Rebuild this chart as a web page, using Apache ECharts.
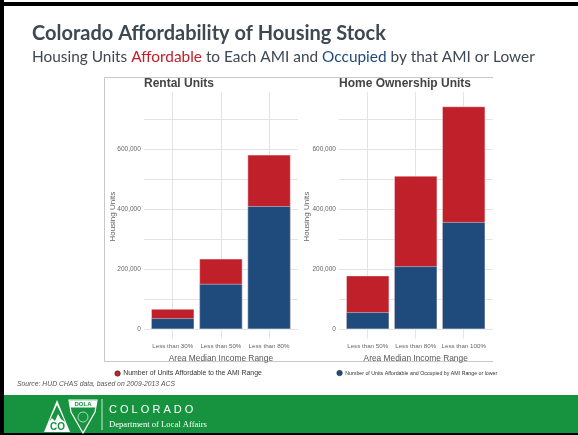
<!DOCTYPE html>
<html><head><meta charset="utf-8">
<script src="https://cdn.jsdelivr.net/npm/echarts@6/dist/echarts.min.js"></script>
<style>html,body{margin:0;padding:0;background:#fff}#c{width:578px;height:435px}</style>
</head><body><div id="c"></div>
<script>
// ---- data ----
const rentalCategories = ['Less than 30%', 'Less than 50%', 'Less than 80%'];
const rentalAffordable = [68000, 235000, 581000];
const rentalOccupied = [37000, 151000, 410000];
const ownerCategories = ['Less than 50%', 'Less than 80%', 'Less than 100%'];
const ownerAffordable = [179000, 511000, 742000];
const ownerOccupied = [57000, 210000, 357000];
const yLabelStep = 200000;
const seriesNames = ['Number of Units Affordable to the AMI Range',
                     'Number of Units Affordable and Occupied by AMI Range or lower'];

const RED = '#c0202a', BLUE = '#1f4a7c', GRID = '#e3e3e3';
const SANS = 'Liberation Sans, Arial, sans-serif';

function yAxisOpt(idx) {
  return {
    type: 'value', gridIndex: idx, min: -30000, max: 790000,
    minInterval: 100000, maxInterval: 100000,
    axisLine: {show: false}, axisTick: {show: false},
    splitLine: {show: true, showMinLine: false, showMaxLine: false, lineStyle: {color: GRID, width: 1}},
    axisLabel: {
      fontSize: 6.5, color: '#666', fontFamily: SANS, margin: 3,
      showMinLabel: false, showMaxLabel: false,
      formatter: v => (v >= 0 && v % yLabelStep === 0) ? v.toLocaleString('en-US') : ''
    }
  };
}
function xAxisOpt(idx, cats) {
  return {
    type: 'value', gridIndex: idx, min: 0.4, max: 3.6,
    minInterval: 1, maxInterval: 1,
    axisLine: {show: false}, axisTick: {show: false},
    splitLine: {show: true, showMinLine: false, showMaxLine: false, lineStyle: {color: GRID, width: 1}},
    axisLabel: {
      fontSize: 6.2, color: '#666', fontFamily: SANS, margin: 5,
      showMinLabel: false, showMaxLabel: false,
      formatter: v => (Math.abs(v - Math.round(v)) < 1e-6 && v >= 1 && v <= 3) ? cats[Math.round(v) - 1] : ''
    },
    name: 'Area Median Income Range', nameLocation: 'middle', nameGap: 12.5,
    nameTextStyle: {fontSize: 8.4, color: '#555', fontFamily: SANS}
  };
}
function bars(idx, name, vals, color) {
  return {
    type: 'bar', name: name, xAxisIndex: idx, yAxisIndex: idx,
    data: vals.map((v, i) => [i + 1, v]),
    barWidth: 43.3, barGap: '-100%',
    itemStyle: {color: color, borderColor: 'rgba(255,255,255,0.55)', borderWidth: 0.8},
    emphasis: {disabled: true}, animation: false
  };
}
function legendOpt(left, name, size) {
  return {
    left: left, top: 365, itemWidth: 5.5, itemHeight: 5.5, icon: 'circle',
    data: [name], selectedMode: false,
    itemStyle: {borderColor: '#333', borderWidth: 0.6},
    textStyle: {fontSize: size, color: '#333', fontFamily: SANS, padding: [0, 0, 0, -2]}
  };
}

const chart = echarts.init(document.getElementById('c'));
chart.setOption({
  animation: false,
  backgroundColor: '#fff',
  grid: [
    {left: 143.8, top: 91.9, width: 154.2, height: 246.4},
    {left: 338.9, top: 91.9, width: 153.6, height: 246.4}
  ],
  xAxis: [xAxisOpt(0, rentalCategories), xAxisOpt(1, ownerCategories)],
  yAxis: [yAxisOpt(0), yAxisOpt(1)],
  legend: [legendOpt(109.5, seriesNames[0], 6.9), legendOpt(331.5, seriesNames[1], 5.25)],
  series: [
    bars(0, seriesNames[0], rentalAffordable, RED),
    bars(0, seriesNames[1], rentalOccupied, BLUE),
    bars(1, seriesNames[0], ownerAffordable, RED),
    bars(1, seriesNames[1], ownerOccupied, BLUE)
  ],
  graphic: [
    {type: 'rect', shape: {x: 0, y: 0, width: 4, height: 435}, style: {fill: '#000'}},
    {type: 'rect', shape: {x: 0, y: 2, width: 578, height: 4}, style: {fill: '#000'}},
    {type: 'rect', shape: {x: 0, y: 433, width: 578, height: 2}, style: {fill: '#000'}},
    {type: 'rect', shape: {x: 4, y: 395, width: 574, height: 38}, style: {fill: '#17933f'}},
    {type: 'polyline', shape: {points: [[493, 77.5], [104.5, 77.5], [104.5, 361.5], [493, 361.5]]},
     style: {stroke: '#c8c8c8', lineWidth: 1, fill: null}},
    {type: 'text', x: 32, y: 34, style: {text: 'Colorado Affordability of Housing Stock',
      font: 'bold 20px Lato, sans-serif', fill: '#3d4852', verticalAlign: 'middle'}},
    {type: 'text', x: 32, y: 57, style: {
      text: '{a|Housing Units }{r|Affordable}{a| to Each AMI and }{b|Occupied}{a| by that AMI or Lower}',
      verticalAlign: 'middle',
      rich: {
        a: {fontSize: 15.4, fontFamily: 'Lato, sans-serif', fill: '#3d4852', color: '#3d4852'},
        r: {fontSize: 15.4, fontFamily: 'Lato, sans-serif', fill: '#c0202a', color: '#c0202a'},
        b: {fontSize: 15.4, fontFamily: 'Lato, sans-serif', fill: '#1f4a7c', color: '#1f4a7c'}
      }}},
    {type: 'text', x: 144, y: 84, style: {text: 'Rental Units', font: 'bold 12px ' + SANS, fill: '#444', verticalAlign: 'middle'}},
    {type: 'text', x: 339, y: 84, style: {text: 'Home Ownership Units', font: 'bold 12px ' + SANS, fill: '#444', verticalAlign: 'middle'}},
    {type: 'text', x: 112.7, y: 216.7, rotation: Math.PI / 2,
     style: {text: 'Housing Units', font: '8px ' + SANS, fill: '#666', align: 'center', verticalAlign: 'middle'}},
    {type: 'text', x: 306.7, y: 216.7, rotation: Math.PI / 2,
     style: {text: 'Housing Units', font: '8px ' + SANS, fill: '#666', align: 'center', verticalAlign: 'middle'}},
    {type: 'text', x: 17, y: 384, style: {text: 'Source: HUD CHAS data, based on 2009-2013 ACS',
      font: 'italic 6.8px ' + SANS, fill: '#555', verticalAlign: 'middle'}},
    // logo: triangle with mountain and CO
    {type: 'polygon', shape: {points: [[57, 400], [44, 432], [70, 432]]}, style: {fill: '#fff'}},
    {type: 'polygon', shape: {points: [[57, 405], [49, 422], [52, 418], [55, 421], [58, 414], [61, 419], [65, 422]]}, style: {fill: '#17933f'}},
    {type: 'text', x: 57.5, y: 427, style: {text: 'CO', font: 'bold 10px ' + SANS, fill: '#17933f', align: 'center', verticalAlign: 'middle'}},
    // shield
    {type: 'polygon', shape: {points: [[69, 400], [97, 400], [95, 412], [83, 433], [71, 412]]}, style: {fill: '#17933f', stroke: '#fff', lineWidth: 1.2}},
    {type: 'rect', shape: {x: 70, y: 400.5, width: 26, height: 7}, style: {fill: '#fff'}},
    {type: 'text', x: 83, y: 404.3, style: {text: 'DOLA', font: 'bold 6px ' + SANS, fill: '#17933f', align: 'center', verticalAlign: 'middle'}},
    {type: 'circle', shape: {cx: 83, cy: 417, r: 5}, style: {fill: 'none', stroke: '#cfe8d6', lineWidth: 0.8}},
    {type: 'line', shape: {x1: 102, y1: 399, x2: 102, y2: 430}, style: {stroke: '#fff', lineWidth: 0.8}},
    {type: 'text', x: 109, y: 410, style: {text: 'C O L O R A D O', font: '11px ' + SANS, fill: '#fff', verticalAlign: 'middle'}},
    {type: 'text', x: 109, y: 424.5, style: {text: 'Department of Local Affairs', font: '8.6px Liberation Serif, serif', fill: '#fff', verticalAlign: 'middle'}}
  ]
});
</script></body></html>
